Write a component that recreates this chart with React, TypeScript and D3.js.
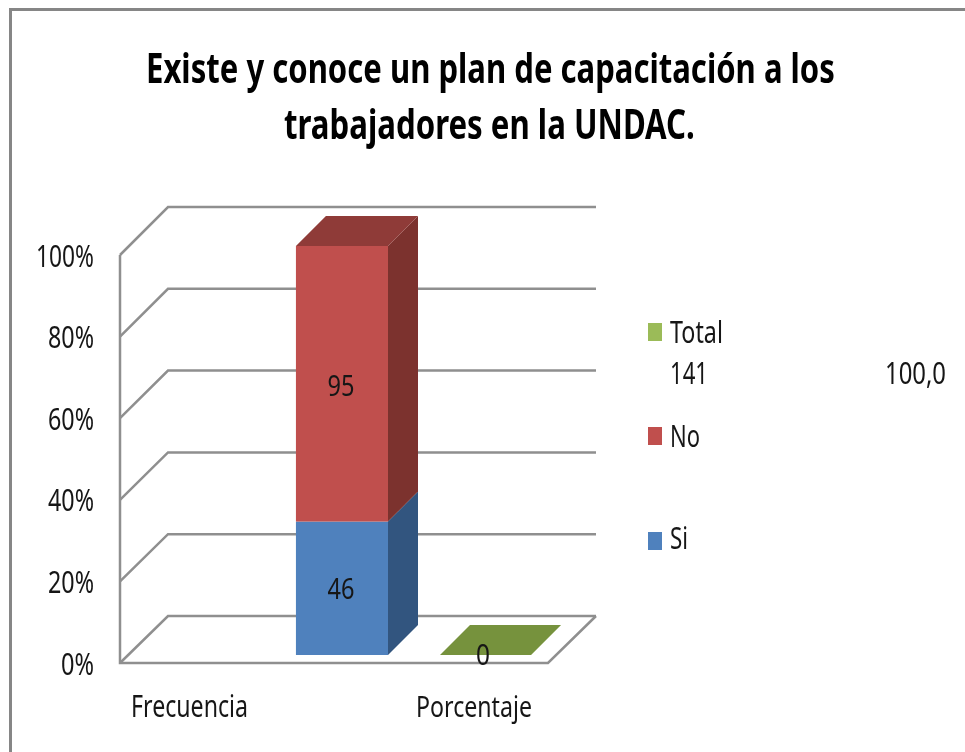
import React, { useLayoutEffect, useRef } from "react";
import * as d3 from "d3";

const categories = ["Frecuencia", "Porcentaje"];
const seriesNames = ["Si", "No", "Total"];
const siValues = [46, 0];
const noValues = [95, 0];
const totalValues = [0, 0];
const yTicks = [0, 0.2, 0.4, 0.6, 0.8, 1];
const titleLines = ["Existe y conoce un plan de capacitación a los", "trabajadores en la UNDAC."];

const FONT = "'Noto Sans', sans-serif";
const front = { "Si": "#4f81bd", "No": "#c0504d", "Total": "#76923c" } as Record<string, string>;
const side = { "Si": "#30547f", "No": "#7c302e", "Total": "#76923c" } as Record<string, string>;
const topFace = { "Si": "#3c6596", "No": "#8f3a37", "Total": "#76923c" } as Record<string, string>;
const legendColor = { "Si": "#4f81bd", "No": "#c0504d", "Total": "#9bbb59" } as Record<string, string>;
const GRID = "#8f8f8f";
const TEXT = "#161616";

const valuesByName = { Si: siValues, No: noValues, Total: totalValues } as Record<string, number[]>;

// Real text, condensed horizontally to the reference's narrow glyph widths.
function T({ x, y, w, size = 30, weight = 400, anchor = "start", fill = TEXT, children }: any) {
  const ref = useRef<SVGTextElement>(null);
  useLayoutEffect(() => {
    const el = ref.current!;
    const len = el.getComputedTextLength();
    el.setAttribute("transform", `translate(${x},${y}) scale(${w / len},1)`);
  });
  return (
    <text ref={ref} transform={`translate(${x},${y})`} fontFamily={FONT} fontSize={size} fontWeight={weight}
      fill={fill} textAnchor={anchor}>{children}</text>
  );
}

export default function App() {
  const yAxis = d3.scaleLinear().domain([0, 1]).range([663, 255]);
  const yBack = d3.scaleLinear().domain([0, 1]).range([616, 207]);
  const yBar = d3.scaleLinear().domain([0, 1]).range([655, 246]);
  const xBar = d3.scaleBand<string>().domain(categories).range([270, 558]).paddingInner(0.361).paddingOuter(0.18);
  const xLabel = d3.scalePoint<string>().domain(categories).range([189.5, 474]);
  const depth = 30;
  const pct = d3.format(".0%");
  const tickWidth = (t: number) => (t === 1 ? 58 : t === 0 ? 33 : 46);

  const stacks = d3.stack<string>()
    .keys(seriesNames)
    .value((c, k) => valuesByName[k][categories.indexOf(c)])
    .offset(d3.stackOffsetExpand)(categories);

  const legendRows = [
    { name: "Total", swatch: 323, base: 343, w: 53 },
    { name: "No", swatch: 427, base: 447, w: 30 },
    { name: "Si", swatch: 532, base: 549, w: 18 },
  ];

  return (
    <svg width={965} height={752} style={{ position: "absolute", left: 0, top: 0 }}>
      <defs>
        <filter id="soft" x="-5%" y="-5%" width="110%" height="110%">
          <feGaussianBlur stdDeviation="0.5" />
        </filter>
      </defs>
      <rect width={965} height={752} fill="#fff" />
      <g filter="url(#soft)">
        <path d="M965,9.5H10.5V752" fill="none" stroke="#868686" strokeWidth={3} />

        <T x={146} y={82.5} w={689} size={41} weight={700} fill="#000">{titleLines[0]}</T>
        <T x={284} y={138.5} w={411} size={41} weight={700} fill="#000">{titleLines[1]}</T>

        {yTicks.map((t) => (
          <g key={t}>
            <path d={`M120,${yAxis(t)}L168,${yBack(t)}H596`} fill="none" stroke={GRID} strokeWidth={2.5} />
            <T x={94} y={yAxis(t) + 11.5} w={tickWidth(t)} anchor="end">{pct(t)}</T>
          </g>
        ))}
        <path d={`M120,${yAxis(1)}V${yAxis(0)}H548L596,${yBack(0)}`} fill="none" stroke={GRID} strokeWidth={2.5} />

        {categories.map((c, ci) => {
          const x0 = xBar(c)!;
          const bw = xBar.bandwidth();
          const total = seriesNames.reduce((s, k) => s + valuesByName[k][ci], 0);
          if (total === 0) {
            const y = yBar(0);
            return (
              <path key={c} d={`M${x0},${y}h${bw - 1}l${depth},${-depth}h${-bw + 1}z`} fill={front.Total} />
            );
          }
          return (
            <g key={c}>
              {stacks.map((layer) => {
                const [a, b] = layer[ci];
                if (b <= a) return null;
                const y1 = yBar(a);
                const y2 = yBar(b);
                const k = layer.key;
                return (
                  <g key={k}>
                    <path d={`M${x0 + bw},${y1}l${depth},${-depth}V${y2 - depth}l${-depth},${depth}z`} fill={side[k]} />
                    <rect x={x0} y={y2} width={bw} height={y1 - y2} fill={front[k]} />
                    {b === 1 && <path d={`M${x0},${y2}l${depth},${-depth}h${bw}l${-depth},${depth}z`} fill={topFace[k]} />}
                  </g>
                );
              })}
            </g>
          );
        })}

        {stacks.slice(0, 2).map((layer) => {
          const [a, b] = layer[0];
          const k = layer.key;
          const v = valuesByName[k][0];
          const mid = yBar((a + b) / 2);
          return <T key={k} x={xBar(categories[0])! + 45} y={mid + (k === "Si" ? 10.5 : 12)} w={27} anchor="middle">{v}</T>;
        })}
        <T x={483} y={665} w={14} anchor="middle">{totalValues[1]}</T>

        <T x={xLabel(categories[0])} y={716.5} w={117} anchor="middle">{categories[0]}</T>
        <T x={xLabel(categories[1])} y={716.5} w={116} anchor="middle">{categories[1]}</T>

        {legendRows.map((r) => (
          <g key={r.name}>
            <rect x={648} y={r.swatch} width={14} height={18} fill={legendColor[r.name]} />
            <T x={670} y={r.base} w={r.w}>{r.name}</T>
          </g>
        ))}
        <T x={670} y={383.5} w={38}>141</T>
        <T x={885} y={383.5} w={61}>100,0</T>
      </g>
    </svg>
  );
}
